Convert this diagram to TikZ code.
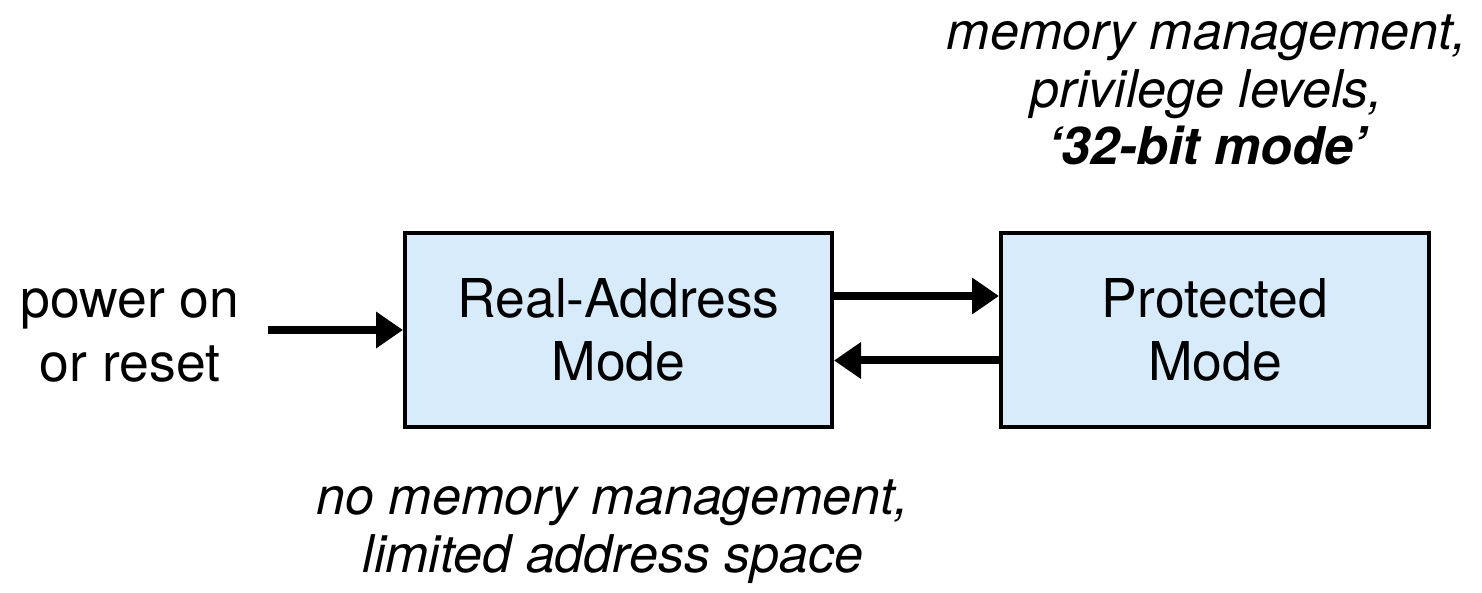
\documentclass[tikz,border=0pt]{standalone}
\usepackage{fontspec}
\setmainfont{TeX Gyre Heros}
\usetikzlibrary{arrows.meta}
\definecolor{boxfill}{RGB}{216,235,251}
\tikzset{
  modebox/.style={draw=black, line width=4pt, fill=boxfill, minimum height=194pt, align=center,
    font=\fontsize{53.5}{63}\selectfont, inner sep=0pt},
  plainlabel/.style={align=center, font=\fontsize{53.5}{64}\selectfont, inner sep=0pt},
  notelabel/.style={align=center, font=\fontsize{52}{57.5}\selectfont\itshape, inner sep=0pt},
  flow/.style={line width=8pt, -{Triangle[length=27pt,width=35pt]}}
}
\begin{document}
\begin{tikzpicture}[x=1pt,y=1pt]
\useasboundingbox (0,0) rectangle (1482,592);
\node[modebox, minimum width=427pt] (real) at (618.5,262) {Real-Address\\Mode};
\node[modebox, minimum width=428pt] (prot) at (1215,262) {Protected\\Mode};
\node[plainlabel] (power) at (130,256.5) {power on\\or reset};
\coordinate (start) at (268,262);
\node[notelabel] (pnote) at (1207,502) {memory management,\\privilege levels,\\\textbf{‘32-bit mode’}};
\node[notelabel] (rnote) at (613,60.5) {no memory management,\\limited address space};
\draw[flow] (start) -- (real.west);
\draw[flow] (real.east |- 0,296) -- (prot.west |- 0,296);
\draw[flow] (prot.west |- 0,231.5) -- (real.east |- 0,231.5);
\end{tikzpicture}
\end{document}
